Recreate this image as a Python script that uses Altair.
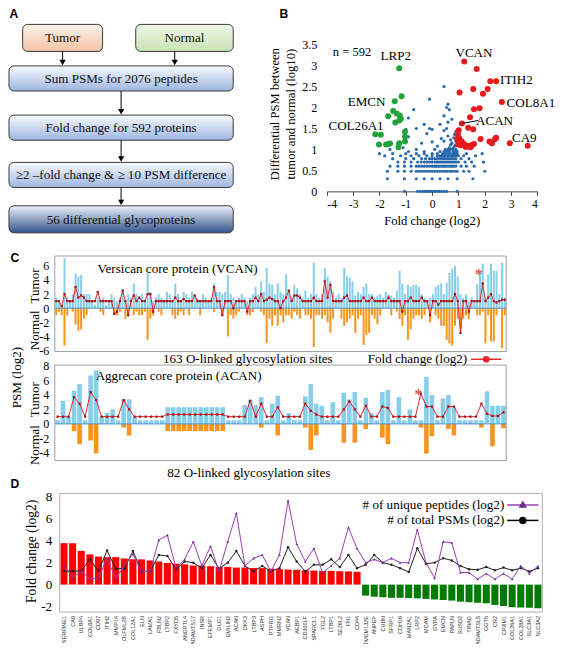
import altair as alt
import pandas as pd

# ---------------- canvas / layout helpers ----------------
W, H = 547, 636
SX, SY = 0.975, 0.965


def X(r):
    return (r - 2) * SX


def Y(r):
    return (r - 2) * SY


def fs(s):
    return round(s * 0.97, 2)


SERIF = "Liberation Serif"
SANS = "Liberation Sans"


def lin(dom, rng):
    return alt.Scale(domain=dom, range=rng, zero=False, nice=False)


RX = lin([2, 2 + W / SX], [0, W])
RY = lin([2, 2 + H / SY], [0, H])

# ---------------- data: panel A ----------------
flow_labels = ["Tumor", "Normal", "Sum PSMs for 2076 peptides", "Fold change for 592 proteins",
               "\u22652 \u2013fold change & \u2265 10 PSM difference", "56 differential glycoproteins"]

# ---------------- data: panel B ----------------
up_x = [1.22, 1.69, 2.21, 2.43, 2.11, 1.93, 1.56, 1.04, 2.65, 1.59, 1.80, 1.44, 1.13, 1.37, 1.56, 1.01,
        1.03, 0.95, 1.84, 2.39, 2.43, 2.18, 2.27, 2.95, 3.63, 0.99, 1.09, 1.22, 1.32, 1.40, 1.53, 1.59,
        1.13, 1.28, 1.46, 0.98]
up_y = [3.10, 2.92, 2.63, 2.63, 2.44, 2.33, 2.44, 2.36, 2.13, 1.96, 1.98, 1.77, 1.62, 1.52, 1.48, 1.46,
        1.27, 1.25, 1.25, 1.25, 1.28, 1.19, 1.15, 1.15, 1.09, 1.12, 1.10, 1.13, 1.09, 1.09, 1.11, 1.13,
        1.19, 1.06, 1.05, 1.35]
down_x = [-1.25, -1.16, -1.42, -1.48, -1.35, -1.67, -1.23, -1.25, -1.40, -1.19, -1.03, -1.03, -1.03,
          -1.25, -1.28, -2.16, -1.95, -2.02, -1.75, -1.66, -1.60]
down_y = [2.94, 2.27, 2.15, 1.92, 1.86, 1.79, 1.81, 1.69, 1.64, 1.73, 1.42, 1.31, 1.19, 1.15, 1.05,
          1.36, 1.35, 1.12, 1.12, 1.13, 1.14]
blue_rows = [
    (0.00, [-1.05, -0.55, -0.45, -0.35, -0.28, -0.2, -0.12, -0.05, 0.05, 0.12, 0.2, 0.28, 0.35, 0.45, 0.55, 0.95]),
    (0.30, [-1.7, -1.05, -0.6, -0.3, 0.0, 0.3, 0.6, 0.95, 1.55]),
    (0.48, [-1.7, -1.3, -1.05, -0.8, -0.6, -0.5, -0.4, -0.3, -0.2, -0.1, 0.0, 0.1, 0.2, 0.3, 0.4, 0.5, 0.58,
            0.68, 0.75, 0.85, 0.95, 1.2, 1.4, 2.0]),
    (0.60, [-1.6, -1.3, -1.05, -0.8, -0.6, -0.5, -0.4, -0.3, -0.2, -0.1, 0.0, 0.08, 0.15, 0.22, 0.3, 0.38,
            0.45, 0.52, 0.6, 0.68, 0.75, 0.82, 0.9, 1.1, 1.3, 1.6]),
    (0.70, [-1.3, -1.05, -0.8, -0.55, -0.42, -0.3, -0.2, -0.1, 0.0, 0.1, 0.18, 0.25, 0.32, 0.4, 0.48, 0.55,
            0.62, 0.7, 0.78, 0.85, 0.92, 1.0, 1.25, 1.5, 1.95]),
    (0.78, [-1.5, -1.0, -0.7, -0.4, -0.25, -0.1, 0.0, 0.1, 0.2, 0.3, 0.38, 0.45, 0.52, 0.6, 0.68, 0.75, 0.82,
            0.9, 1.1, 1.4]),
    (0.85, [-1.8, -1.2, -0.8, -0.5, -0.2, 0.0, 0.2, 0.28, 0.35, 0.42, 0.5, 0.6, 0.7, 0.78, 0.85, 0.92, 1.0,
            1.2, 1.65]),
    (0.90, [-2.0, -1.5, -1.0, -0.6, -0.3, 0.0, 0.2, 0.4, 0.5, 0.6, 0.7, 0.8, 0.88, 0.95, 1.3, 1.9]),
    (0.95, [-0.9, -0.3, 0.3, 0.45, 0.55, 0.65, 0.8, 0.88, 0.95]),
    (1.00, [-1.6, -0.6, 0.1, 0.5, 0.6, 0.7, 0.8, 0.9]),
]
blue_extra_x = [-1.1, 0.2, 0.65, 0.9, -0.4, 0.45, 0.0, -0.9, 0.35, 0.6, 0.7, 0.85, 0.9, 0.45, -0.2, -1.0,
                0.0, 0.3, 0.55, -0.6, -0.3, -0.1, 0.6, 0.75, 0.45, 0.65, 0.55, 0.6, -0.7, -0.1, 0.45, -0.9,
                0.8, 0.85, 0.75, 0.9, 0.7, 0.82]
blue_extra_y = [1.04, 1.08, 1.04, 1.11, 1.15, 1.20, 1.18, 1.30, 1.26, 1.32, 1.23, 1.36, 1.43, 1.45, 1.38, 1.48,
                1.48, 1.60, 1.50, 1.50, 1.60, 1.50, 1.65, 1.72, 1.80, 1.95, 2.00, 2.08, 1.95, 2.20, 2.50, 1.75,
                1.04, 1.08, 1.15, 1.20, 1.11, 1.28]
gene_lab = ["LRP2", "EMCN", "COL26A1", "VCAN", "ITIH2", "COL8A1", "ACAN", "CA9"]
gene_lab_x = [-1.38, -2.49, -2.89, 1.59, 3.20, 3.75, 2.37, 3.50]
gene_lab_y = [3.22, 2.14, 1.56, 3.31, 2.65, 2.12, 1.69, 1.27]

# ---------------- data: panel C (VCAN, 163 sites) ----------------
vcan_tumor = [
    1.5, 1.0, 0.5, 7.1, 1.5, 1.0, 2.0, 4.9, 4.5, 4.7,
    2.0, 2.0, 2.0, 1.0, 0.5, 1.5, 1.0, 1.5, 0.5, 1.0,
    2.0, 1.5, 1.0, 1.5, 2.5, 1.0, 2.0, 1.5, 3.5, 2.0,
    1.5, 2.0, 1.0, 5.0, 2.3, 1.0, 1.5, 2.0, 1.5, 1.0,
    2.3, 2.0, 1.0, 3.5, 2.0, 1.0, 2.3, 2.0, 1.5, 2.3,
    2.0, 1.5, 1.0, 2.0, 1.5, 1.0, 1.5, 3.5, 2.3, 2.3,
    2.0, 2.3, 4.7, 2.0, 1.5, 1.0, 1.5, 2.0, 1.5, 1.0,
    1.5, 2.0, 3.0, 2.0, 3.8, 2.3, 5.7, 3.5, 3.3, 2.0,
    3.5, 2.3, 2.0, 4.8, 2.5, 1.5, 3.3, 2.8, 2.0, 1.5,
    2.5, 1.5, 2.0, 6.5, 2.0, 1.5, 2.0, 5.7, 4.5, 3.8,
    2.3, 1.5, 2.0, 1.5, 5.7, 4.5, 4.3, 3.8, 1.8, 2.3,
    2.0, 3.0, 3.5, 2.0, 2.0, 1.5, 1.8, 2.0, 1.5, 2.3,
    2.0, 1.8, 1.5, 2.5, 5.3, 3.5, 2.0, 3.3, 3.0, 3.3,
    3.3, 3.0, 2.0, 1.5, 1.0, 1.5, 2.0, 3.0, 3.3, 3.5,
    2.0, 3.6, 5.0, 5.6, 6.0, 4.5, 2.0, 1.5, 2.0, 1.0,
    1.5, 1.0, 3.4, 5.2, 6.3, 1.5, 4.8, 6.3, 5.3, 5.3,
    2.0, 6.5, 1.5]
vcan_normal = [
    1.0, 0.5, 1.0, 5.3, 1.0, 0.0, 0.5, 2.3, 3.2, 3.0,
    1.5, 1.0, 0.0, 0.0, 0.0, 0.0, 0.5, 1.0, 0.0, 0.0,
    0.0, 1.0, 1.0, 0.5, 0.0, 1.5, 1.0, 0.0, 1.0, 0.5,
    1.0, 1.0, 0.5, 4.5, 1.5, 1.0, 0.0, 0.5, 1.0, 0.0,
    0.0, 0.0, 1.0, 1.5, 1.0, 0.5, 1.0, 0.0, 1.0, 0.0,
    0.0, 0.0, 1.0, 0.0, 0.0, 0.0, 0.0, 0.5, 0.0, 0.0,
    1.0, 0.0, 4.0, 1.0, 1.5, 1.0, 0.5, 0.0, 0.0, 1.0,
    1.0, 0.5, 0.0, 0.0, 0.5, 1.0, 5.0, 1.5, 2.5, 1.0,
    2.5, 1.0, 2.0, 1.0, 1.0, 1.5, 0.5, 1.0, 1.5, 0.0,
    1.0, 1.0, 1.5, 5.5, 1.0, 1.0, 1.5, 1.0, 2.0, 3.5,
    1.5, 0.0, 0.0, 1.5, 2.5, 2.0, 1.5, 1.0, 3.5, 1.5,
    1.0, 5.2, 3.8, 3.5, 1.0, 1.5, 2.3, 1.0, 0.0, 0.0,
    0.0, 1.0, 0.0, 0.5, 1.5, 2.5, 1.0, 4.5, 3.0, 1.5,
    1.0, 1.0, 1.5, 1.0, 0.0, 2.0, 0.0, 1.0, 1.5, 2.5,
    2.5, 4.5, 5.0, 5.3, 2.5, 1.5, 3.0, 1.5, 1.0, 1.5,
    0.0, 0.0, 1.0, 1.0, 0.5, 5.0, 1.0, 4.7, 4.7, 1.0,
    0.0, 5.7, 1.0]
vcan_fold = [
    1.0, 1.0, 0.3, 2.0, 1.0, 1.0, 1.0, 3.0, 1.5, 1.8,
    1.5, 1.0, 1.0, 1.0, 1.0, 2.3, 1.0, 1.0, 1.0, 1.0,
    1.0, -0.8, -0.5, 1.0, 2.5, 1.0, -1.0, 1.0, 1.8, 1.0,
    1.5, 1.0, 1.0, 2.0, 2.0, -0.5, 1.0, 1.0, 1.0, 1.0,
    1.0, 1.0, 1.0, 1.5, 1.0, 1.0, 1.3, 1.0, 1.0, 1.0,
    1.8, 1.0, 1.0, 1.0, 1.0, 1.0, 1.0, 3.0, 1.0, 1.0,
    -1.0, 1.0, 1.0, 1.0, 0.0, 1.0, 1.0, 1.0, 1.0, -0.5,
    1.0, 1.0, 1.5, 1.0, 2.0, 1.0, 1.2, 1.5, 1.3, 1.0,
    1.0, 0.0, 1.0, 1.5, 2.5, 1.0, 1.8, 1.8, 1.5, 1.0,
    1.0, 1.0, 1.0, 1.5, 1.0, 1.0, 1.0, 3.8, 1.5, 3.3,
    1.0, 1.0, 1.0, 1.0, 1.5, 1.8, 1.0, 1.0, 1.0, 1.0,
    1.0, 1.5, 1.0, 1.0, 1.5, 1.0, 1.0, 1.0, 1.0, 1.0,
    1.5, 1.0, 1.0, 1.0, 1.0, -0.5, 1.0, 1.0, 1.5, 1.0,
    1.0, 1.0, 1.5, 1.0, 1.0, -1.0, 1.0, 1.0, 0.5, 1.0,
    1.0, 1.0, 1.0, 1.0, 2.0, 1.0, -3.5, 1.0, 1.0, -0.5,
    1.0, 1.0, 1.0, 1.0, 3.5, 1.0, 1.5, 2.0, 1.0, 0.8,
    1.0, 1.2, 1.2]

# ---------------- data: panel C (ACAN, 82 sites) ----------------
acan_tumor = [
    0.5, 3.2, 1.0, 4.6, 5.5, 0.5, 6.7, 7.4, 1.0, 1.5,
    2.0, 0.5, 3.4, 3.4, 1.0, 0.5, 0.5, 0.5, 0.5, 0.5,
    2.3, 2.3, 2.3, 2.3, 2.3, 2.3, 2.3, 2.3, 2.3, 2.3,
    2.3, 0.5, 0.5, 0.5, 2.6, 3.3, 2.6, 3.7, 0.5, 2.8,
    3.9, 0.5, 1.5, 0.5, 0.5, 3.8, 5.5, 2.8, 2.5, 0.5,
    3.0, 0.5, 4.3, 3.4, 4.4, 0.5, 3.6, 1.5, 0.5, 4.4,
    4.7, 0.5, 3.7, 0.5, 2.0, 0.5, 0.5, 6.5, 4.0, 0.5,
    3.5, 4.0, 2.3, 0.5, 0.5, 0.5, 0.5, 0.5, 4.5, 2.5,
    2.5, 2.5]
acan_normal = [
    0, 0, 0, 1.0, 2.8, 0, 2.3, 4.1, 0, 0,
    0, 0, 0.5, 1.6, 0, 0, 0, 0, 0, 0,
    1.0, 1.0, 1.0, 1.0, 1.0, 1.0, 1.0, 1.0, 1.0, 1.0,
    1.0, 0, 0, 0, 0, 0, 0, 0.5, 0, 0,
    1.6, 0, 0, 0, 0, 0.5, 3.6, 1.6, 0, 0,
    0, 0, 2.6, 0, 2.6, 0, 0.7, 0, 0, 1.9,
    2.8, 0, 0, 0, 0, 0, 0.5, 4.1, 1.7, 0,
    0, 0.7, 1.6, 0, 0, 0, 0, 0.5, 0, 3.1,
    0, 0.6]
acan_fold = [
    1.0, 1.0, 1.0, 3.7, 2.8, 1.0, 4.4, 3.3, 1.0, 1.0,
    1.0, 1.0, 3.3, 2.0, 1.0, 1.0, 1.0, 1.0, 1.0, 1.0,
    1.3, 1.3, 1.3, 1.3, 1.3, 1.3, 1.3, 1.3, 1.3, 1.3,
    1.3, 1.0, 1.0, 1.0, 1.0, 3.2, 1.0, 2.8, 1.0, 1.0,
    2.3, 1.0, 1.0, 1.0, 1.0, 2.8, 1.8, 1.3, 1.0, 1.0,
    1.0, 1.0, 2.0, 3.1, 2.0, 1.0, 2.5, 1.0, 1.0, 2.4,
    2.2, 1.0, 1.0, 1.0, 1.0, 1.0, 4.2, 2.4, 2.4, 1.0,
    1.0, 2.4, 2.4, 1.0, 1.0, 1.0, 1.0, 2.8, 1.4, 1.1,
    1.1, 1.6]

# ---------------- data: panel D (56 glycoproteins) ----------------
d_genes = ["SERPINE1", "CA9", "ULBP4", "COL8A1", "CD97", "ITIH2", "MMP14", "OLFML2B", "COL12A1", "ELN",
           "LAMA1", "FBLN2", "LTBP2", "FXYD5", "ANGPTL4", "ADAMTS17", "INSR", "EFEMP1", "GLG1", "EMILIN2",
           "ACAN", "DKK3", "LTBP3", "ASPH", "PTPRG", "MMRN2", "VCAN", "AEBP1", "CD300LF", "SPARCL1",
           "FGL2", "LTBP1", "SEZ6L2", "FN1", "CD44", "TMEM132E", "ANPEP", "CUBN", "SFRP1", "CDH16",
           "MAN2A1", "LRP2", "MGAM", "GYPA", "EMCN", "PAPLN", "SUSD2", "TINAG", "ADAMTSL5", "GGT5",
           "CR2", "CPXM1", "COL26A1", "COL28A1", "SLC3A1", "SLC3A2"]
d_fold = [3.77, 3.77, 3.07, 2.75, 2.55, 2.5, 2.5, 2.38, 2.3, 2.3, 2.2, 2.1, 1.97, 1.9, 1.85, 1.73,
          1.73, 1.67, 1.6, 1.6, 1.55, 1.55, 1.52, 1.5, 1.45, 1.4, 1.37, 1.35, 1.3, 1.28, 1.25, 1.25,
          1.22, 1.2, 1.17,
          -1.0, -1.1, -1.15, -1.2, -1.2, -1.22, -1.25, -1.3, -1.35, -1.4, -1.45, -1.55, -1.6, -1.65,
          -1.7, -1.85, -1.95, -2.05, -2.08, -2.1, -2.15]
d_peptides = [1.66, 0.64, 1.23, 0.55, 0.55, 2.4, 0.55, 1.7, 2.8, 1.2, 1.2, 4.06, 4.5, 1.5, 2.3, 3.9,
              1.7, 3.5, 1.2, 3.9, 6.5, 1.7, 2.4, 2.7, 1.2, 2.7, 7.65, 3.7, 2.1, 3.3, 1.1, 1.7, 2.4,
              5.2, 3.3, 2.0, 2.3, 2.0, 2.4, 2.0, 2.0, 5.0, 2.0, 0.6, 3.9, 3.8, 1.1, 1.1, 0.5, 1.0,
              0.5, 1.0, 0.5, 1.7, 1.0, 1.7]
d_psms = [1.23, 1.23, 1.23, 2.3, 1.23, 3.1, 1.45, 1.45, 3.05, 1.2, 1.2, 2.7, 2.6, 1.4, 2.1, 2.0,
          1.5, 2.7, 1.45, 2.0, 3.05, 1.7, 1.2, 1.7, 1.2, 1.5, 3.4, 2.1, 1.2, 1.8, 1.8, 2.3, 1.6,
          2.7, 1.5, 1.8, 2.7, 2.0, 1.8, 1.5, 1.15, 3.3, 1.9, 2.0, 2.4, 2.2, 1.7, 1.4, 1.35, 1.6,
          1.3, 1.55, 1.3, 1.5, 1.2, 1.5]

# ---------------- build ----------------
L = []


def text_layer(df, sx=RX, sy=RY, **mk):
    return alt.Chart(df).mark_text(**mk).encode(
        x=alt.X("x:Q", scale=sx, axis=None), y=alt.Y("y:Q", scale=sy, axis=None), text="t:N")


def grad(c0, c1):
    return alt.LinearGradient(gradient="linear",
                              stops=[alt.GradientStop(color=c0, offset=0), alt.GradientStop(color=c1, offset=1)],
                              x1=0, x2=0, y1=0, y2=1)


# ---- Panel A (flow chart, layout in reference pixels) ----
flow_boxes = [(17, 99, 19, 47), (133, 233, 19, 47), (3, 233, 62, 88), (3, 233, 113, 139),
              (3, 233, 162, 188), (3, 233, 207, 235)]
flow_fill = [("#FDF1E8", "#F2C4A6"), ("#F0F7EA", "#C9E2B6"), ("#F8FAFD", "#9FB5E0"),
             ("#F8FAFD", "#9FB5E0"), ("#F8FAFD", "#9FB5E0"), ("#EEF2F9", "#34528C")]
for (x0, x1, y0, y1), (c0, c1) in zip(flow_boxes, flow_fill):
    df = pd.DataFrame([dict(x0=x0, x1=x1, y0=y0, y1=y1)])
    L.append(alt.Chart(df).mark_rect(fill=grad(c0, c1), stroke="#3a3a3a", strokeWidth=1, cornerRadius=5).encode(
        x=alt.X("x0:Q", scale=RX, axis=None), x2="x1:Q",
        y=alt.Y("y0:Q", scale=RY, axis=None), y2="y1:Q"))
flow_txt = pd.DataFrame(dict(x=[(b[0] + b[1]) / 2 for b in flow_boxes],
                             y=[(b[2] + b[3]) / 2 + 0.5 for b in flow_boxes], t=flow_labels))
L.append(text_layer(flow_txt, font=SERIF, fontSize=fs(13.5), color="#111"))

arrows = pd.DataFrame(dict(x=[58, 173, 118, 118, 118], y0=[47, 47, 88, 139, 188], y1=[57, 57, 108, 157, 202],
                           yh=[58.5, 58.5, 109.5, 158.5, 203.5]))
L.append(alt.Chart(arrows).mark_rule(color="black", strokeWidth=1).encode(
    x=alt.X("x:Q", scale=RX, axis=None), y=alt.Y("y0:Q", scale=RY, axis=None), y2="y1:Q"))
L.append(alt.Chart(arrows).mark_point(shape="triangle-down", filled=True, color="black", size=38, opacity=1).encode(
    x=alt.X("x:Q", scale=RX, axis=None), y=alt.Y("yh:Q", scale=RY, axis=None)))

# panel letters
letters = pd.DataFrame(dict(x=[8, 285, 9, 9], y=[8, 8, 261, 495], t=["A", "B", "C", "D"]))
L.append(text_layer(letters, font=SANS, fontSize=fs(12.5), fontWeight="bold", color="black"))

# ---- Panel B (scatter) ----
BX = lin([-4, 4], [X(329), X(545)])
BY = lin([0, 3.5], [Y(192), Y(40)])
bx, by = [], []
for yy, xs in blue_rows:
    for xx in xs:
        bx.append(xx)
        by.append(yy)
bx += blue_extra_x
by += blue_extra_y
ax_bx = alt.Axis(orient="bottom", offset=Y(192) - H, values=list(range(-4, 5)), labelExpr="'' + datum.value",
                 tickSize=4, tickColor="#444", domainColor="#444", labelFont=SERIF, labelFontSize=fs(12),
                 labelColor="black", labelPadding=3, grid=False, title=None)
ax_by = alt.Axis(orient="left", offset=-X(329), values=[0, 0.5, 1, 1.5, 2, 2.5, 3, 3.5],
                 labelExpr="'' + datum.value", domain=False, ticks=False, labelPadding=10, labelFont=SERIF,
                 labelFontSize=fs(12.5), labelColor="black", grid=False, title=None)
L.append(alt.Chart(pd.DataFrame(dict(x=bx, y=by))).mark_circle(size=10, color="#2A69AE", opacity=1).encode(
    x=alt.X("x:Q", scale=BX, axis=ax_bx), y=alt.Y("y:Q", scale=BY, axis=ax_by)))
L.append(alt.Chart(pd.DataFrame(dict(x=up_x, y=up_y))).mark_circle(size=36, color="#E41A1C", opacity=1).encode(
    x=alt.X("x:Q", scale=BX, axis=None), y=alt.Y("y:Q", scale=BY, axis=None)))
L.append(alt.Chart(pd.DataFrame(dict(x=down_x, y=down_y))).mark_circle(size=36, color="#22A33A", opacity=1).encode(
    x=alt.X("x:Q", scale=BX, axis=None), y=alt.Y("y:Q", scale=BY, axis=None)))
L.append(alt.Chart(pd.DataFrame(dict(x=[1.13], y=[1.62], x2=[1.75], y2=[1.69]))).mark_rule(
    color="black", strokeWidth=1).encode(
    x=alt.X("x:Q", scale=BX, axis=None), y=alt.Y("y:Q", scale=BY, axis=None), x2="x2:Q", y2="y2:Q"))
L.append(text_layer(pd.DataFrame(dict(x=gene_lab_x, y=gene_lab_y, t=gene_lab)), sx=BX, sy=BY,
                    font=SERIF, fontSize=fs(13.5), color="black"))
L.append(text_layer(pd.DataFrame(dict(x=[335], y=[48], t=["n = 592"])), font=SERIF, fontSize=fs(13),
                    color="black", align="left"))
L.append(text_layer(pd.DataFrame(dict(x=[276, 292], y=[112, 112],
                                      t=["Differential PSM between", "tumor and normal (log10)"])),
                    font=SERIF, fontSize=fs(13), color="black", angle=270))
L.append(text_layer(pd.DataFrame(dict(x=[437], y=[223], t=["Fold change  (log2)"])),
                    font=SERIF, fontSize=fs(13), color="black"))

# ---- Panel C ----
LBLUE, ORANGE, RED = "#87CEEB", "#F7941D", "#E3262B"


def site_panel(tumor, normal, fold, xs, ys, ticks, half):
    n = len(tumor)
    df = pd.DataFrame(dict(i=list(range(n)), t=tumor, nn=[-v for v in normal], f=fold))
    out = []
    out.append(alt.Chart(df).transform_calculate(x0=f"datum.i - {half}", x1=f"datum.i + {half}", z="0")
               .mark_rect(color=LBLUE).encode(x=alt.X("x0:Q", scale=xs, axis=None), x2="x1:Q",
                                               y=alt.Y("t:Q", scale=ys, axis=None), y2="z:Q"))
    out.append(alt.Chart(df).transform_calculate(x0=f"datum.i - {half}", x1=f"datum.i + {half}", z="0")
               .mark_rect(color=ORANGE).encode(x=alt.X("x0:Q", scale=xs, axis=None), x2="x1:Q",
                                                y=alt.Y("nn:Q", scale=ys, axis=None), y2="z:Q"))
    dom_x = xs.domain
    dom_y = ys.domain
    out.append(alt.Chart(pd.DataFrame(dict(x0=[dom_x[0]], x1=[dom_x[1]], y=[0]))).mark_rule(
        color="#4F8FCB", strokeWidth=1).encode(x=alt.X("x0:Q", scale=xs, axis=None), x2="x1:Q",
                                               y=alt.Y("y:Q", scale=ys, axis=None)))
    out.append(alt.Chart(df).mark_line(color=RED, strokeWidth=1).encode(
        x=alt.X("i:Q", scale=xs, axis=None), y=alt.Y("f:Q", scale=ys, axis=None)))
    out.append(alt.Chart(df).mark_point(shape="square", filled=True, size=5, color="#A31515", opacity=1).encode(
        x=alt.X("i:Q", scale=xs, axis=None), y=alt.Y("f:Q", scale=ys, axis=None)))
    ax = alt.Axis(orient="left", offset=-xs.range[0], values=ticks, labelExpr="'' + datum.value",
                  domain=False, ticks=False, labelPadding=6, labelFont=SERIF, labelFontSize=fs(12.5),
                  labelColor="black", grid=False, title=None)
    out.append(alt.Chart(pd.DataFrame(dict(x0=[dom_x[0]], x1=[dom_x[1]], y0=[dom_y[0]], y1=[dom_y[1]])))
               .mark_rect(fillOpacity=0, stroke="#A0A0A0", strokeWidth=1).encode(
        x=alt.X("x0:Q", scale=xs, axis=None), x2="x1:Q", y=alt.Y("y0:Q", scale=ys, axis=ax), y2="y1:Q"))
    return out


CVX = lin([-0.5, 162.5], [X(50), X(513)])
CVY = lin([-6.15, 7.4], [Y(358), Y(259)])
CAX = lin([-0.5, 81.5], [X(50), X(513)])
CAY = lin([-5.07, 8.13], [Y(471), Y(372)])
L += site_panel(vcan_tumor, vcan_normal, vcan_fold, CVX, CVY, [-6, -4, -2, 0, 2, 4, 6], 0.36)
L += site_panel(acan_tumor, acan_normal, acan_fold, CAX, CAY, [-4, -2, 0, 2, 4, 6, 8], 0.42)

c_text = pd.DataFrame(dict(
    x=[176, 177, 248, 249],
    y=[272, 383, 366, 484],
    t=["Versican core protein (VCAN)", "Aggrecan  core protein (ACAN)",
       "163 O-linked glycosylation sites", "82 O-linked glycosylation sites"]))
L.append(text_layer(c_text, font=SERIF, fontSize=fs(13.5), color="black"))
side = pd.DataFrame(dict(x=[30, 30, 30, 30, 11], y=[290, 336, 408, 455, 385],
                         t=["Tumor", "Normal", "Tumor", "Normal", "PSM (log2)"]))
L.append(text_layer(side, font=SERIF, fontSize=fs(13.5), color="black", angle=270))
stars = pd.DataFrame(dict(x=[485, 423], y=[279, 403], t=["*", "*"]))
L.append(text_layer(stars, font=SERIF, fontSize=fs(17), color="#E3262B"))
L.append(text_layer(pd.DataFrame(dict(x=[473], y=[366], t=["Fold change  (log2)"])),
                    font=SERIF, fontSize=fs(13.5), color="black", align="right"))
L.append(alt.Chart(pd.DataFrame(dict(x0=[477], x1=[508], y=[366]))).mark_rule(color=RED, strokeWidth=1.5).encode(
    x=alt.X("x0:Q", scale=RX, axis=None), x2="x1:Q", y=alt.Y("y:Q", scale=RY, axis=None)))
L.append(alt.Chart(pd.DataFrame(dict(x=[492.5], y=[366]))).mark_circle(size=45, color=RED, opacity=1).encode(
    x=alt.X("x:Q", scale=RX, axis=None), y=alt.Y("y:Q", scale=RY, axis=None)))

# ---- Panel D ----
DX = lin([-0.5, 55.5], [X(55), X(550)])
DY = lin([-2.5, 8.3], [Y(628), Y(505)])
dfd = pd.DataFrame(dict(i=list(range(len(d_genes))), g=d_genes, v=d_fold, p=d_peptides, s=d_psms))
for flt, col in [("datum.v > 0", "#FF0000"), ("datum.v < 0", "#007A00")]:
    L.append(alt.Chart(dfd).transform_filter(flt)
             .transform_calculate(x0="datum.i - 0.41", x1="datum.i + 0.41", z="0")
             .mark_rect(color=col).encode(x=alt.X("x0:Q", scale=DX, axis=None), x2="x1:Q",
                                          y=alt.Y("v:Q", scale=DY, axis=None), y2="z:Q"))
PURPLE = "#9A3FB5"
L.append(alt.Chart(dfd).mark_line(color="#222222", strokeWidth=1).encode(
    x=alt.X("i:Q", scale=DX, axis=None), y=alt.Y("s:Q", scale=DY, axis=None)))
L.append(alt.Chart(dfd).mark_circle(size=6, color="#222222", opacity=1).encode(
    x=alt.X("i:Q", scale=DX, axis=None), y=alt.Y("s:Q", scale=DY, axis=None)))
L.append(alt.Chart(dfd).mark_line(color=PURPLE, strokeWidth=1).encode(
    x=alt.X("i:Q", scale=DX, axis=None), y=alt.Y("p:Q", scale=DY, axis=None)))
L.append(alt.Chart(dfd).mark_point(shape="triangle-up", filled=True, size=7, color="#6A2C91", opacity=1).encode(
    x=alt.X("i:Q", scale=DX, axis=None), y=alt.Y("p:Q", scale=DY, axis=None)))
ax_dy = alt.Axis(orient="left", offset=-X(55), values=[-2, 0, 2, 4, 6, 8], labelExpr="'' + datum.value",
                 domain=False, ticks=False, labelPadding=8, labelFont=SERIF, labelFontSize=fs(13.5),
                 labelColor="black", grid=False, title=None)
L.append(alt.Chart(pd.DataFrame(dict(x0=[-0.5], x1=[55.5], y0=[-2.5], y1=[8.3])))
         .mark_rect(fillOpacity=0, stroke="#AFAFAF", strokeWidth=1).encode(
    x=alt.X("x0:Q", scale=DX, axis=None), x2="x1:Q", y=alt.Y("y0:Q", scale=DY, axis=ax_dy), y2="y1:Q"))
L.append(alt.Chart(dfd).mark_text(angle=270, align="right", baseline="middle", font=SANS, fontSize=5.5,
                                  color="#333333").encode(
    x=alt.X("i:Q", scale=DX, axis=None), y=alt.value(Y(632)), text="g:N"))
L.append(text_layer(pd.DataFrame(dict(x=[27], y=[565], t=["Fold change (log2)"])),
                    font=SERIF, fontSize=fs(14), color="black", angle=270))
leg = pd.DataFrame(dict(x=[511, 511], y=[517, 533], t=["# of unique peptides (log2)", "# of total PSMs (log2)"]))
L.append(text_layer(leg, font=SERIF, fontSize=fs(13.5), color="black", align="right"))
L.append(alt.Chart(pd.DataFrame(dict(x0=[514], x1=[546], y=[517]))).mark_rule(color=PURPLE, strokeWidth=1.5).encode(
    x=alt.X("x0:Q", scale=RX, axis=None), x2="x1:Q", y=alt.Y("y:Q", scale=RY, axis=None)))
L.append(alt.Chart(pd.DataFrame(dict(x=[530], y=[516]))).mark_point(shape="triangle-up", filled=True, size=70,
                                                                     color="#6A2C91", opacity=1).encode(
    x=alt.X("x:Q", scale=RX, axis=None), y=alt.Y("y:Q", scale=RY, axis=None)))
L.append(alt.Chart(pd.DataFrame(dict(x0=[514], x1=[546], y=[533]))).mark_rule(color="black", strokeWidth=1.5).encode(
    x=alt.X("x0:Q", scale=RX, axis=None), x2="x1:Q", y=alt.Y("y:Q", scale=RY, axis=None)))
L.append(alt.Chart(pd.DataFrame(dict(x=[530], y=[533]))).mark_circle(size=55, color="black", opacity=1).encode(
    x=alt.X("x:Q", scale=RX, axis=None), y=alt.Y("y:Q", scale=RY, axis=None)))

chart = (alt.layer(*L)
         .resolve_scale(x="independent", y="independent")
         .properties(width=W, height=H, padding=0, autosize=alt.AutoSizeParams(type="none"))
         .configure_view(stroke=None))

chart.save("out.html", embed_options={"renderer": "svg", "actions": False})
